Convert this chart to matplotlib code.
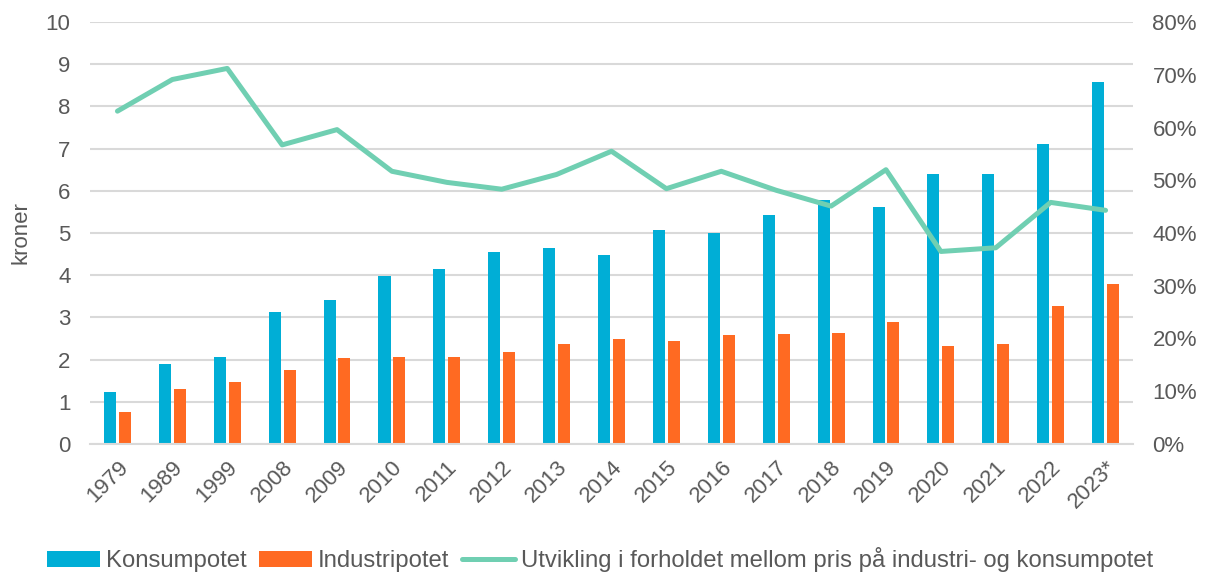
import numpy as np
import matplotlib
matplotlib.use("Agg")
import matplotlib.pyplot as plt
from matplotlib.ticker import FuncFormatter

years = ["1979", "1989", "1999", "2008", "2009", "2010", "2011", "2012", "2013", "2014",
         "2015", "2016", "2017", "2018", "2019", "2020", "2021", "2022", "2023*"]
konsum = [1.23, 1.90, 2.07, 3.12, 3.42, 3.98, 4.15, 4.54, 4.65, 4.49,
          5.07, 5.01, 5.43, 5.79, 5.61, 6.39, 6.39, 7.12, 8.59]
industri = [0.77, 1.30, 1.47, 1.76, 2.04, 2.05, 2.05, 2.19, 2.37, 2.49,
            2.45, 2.58, 2.61, 2.62, 2.90, 2.32, 2.38, 3.26, 3.80]
forhold = [63.1, 69.1, 71.2, 56.7, 59.6, 51.7, 49.6, 48.3, 51.1, 55.5,
           48.4, 51.7, 48.1, 45.1, 52.0, 36.5, 37.2, 45.8, 44.3]

BLUE = "#00AED6"
ORANGE = "#FF6A22"
GREEN = "#70CFB2"
TXT = "#595959"
GRID = "#D9D9D9"
FS = 16

plt.rcParams["font.family"] = ["Liberation Sans", "DejaVu Sans"]

fig = plt.figure(figsize=(12.05, 5.72), dpi=100)
ax = fig.add_axes([90 / 1205, 128 / 572, (1133 - 90) / 1205, (444 - 22) / 572])
ax2 = ax.twinx()

x = np.arange(len(years))
w = 0.22
ax.bar(x - 0.135, konsum, w, color=BLUE, label="Konsumpotet", zorder=2)
ax.bar(x + 0.135, industri, w, color=ORANGE, label="Industripotet", zorder=2)
ax2.plot(x, forhold, color=GREEN, lw=3.6, solid_capstyle="round",
         label="Utvikling i forholdet mellom pris på industri- og konsumpotet", zorder=3)

ax.set_xlim(-0.5, len(years) - 0.5)
ax.set_ylim(0, 10)
ax.set_yticks(range(0, 11))
ax2.set_ylim(0, 80)
ax2.set_yticks(range(0, 81, 10))
ax2.yaxis.set_major_formatter(FuncFormatter(lambda v, p: f"{int(v)}%"))

ax.yaxis.grid(True, color=GRID, lw=1.5, zorder=0)
ax.set_axisbelow(True)
for a in (ax, ax2):
    for s in a.spines.values():
        s.set_visible(False)
    a.tick_params(length=0, labelsize=FS, colors=TXT)
ax.spines["bottom"].set_visible(True)
ax.spines["bottom"].set_color(GRID)
ax.spines["bottom"].set_linewidth(1.5)

ax.set_xticks(x)
ax.set_xticklabels(years, rotation=45, ha="right", rotation_mode="anchor")
ax.tick_params(axis="x", pad=9)
ax.tick_params(axis="y", pad=14)
ax2.tick_params(axis="y", pad=14)
ax.set_ylabel("kroner", fontsize=FS, color=TXT, labelpad=10)

h1, l1 = ax.get_legend_handles_labels()
h2, l2 = ax2.get_legend_handles_labels()
fig.legend(h1 + h2, l1 + l2, loc="center", bbox_to_anchor=(0.498, 0.021), ncol=3,
           frameon=False, fontsize=17.2, labelcolor=TXT, handlelength=2.2,
           handleheight=0.6, handletextpad=0.25, columnspacing=0.55,
           borderpad=0, borderaxespad=0)

fig.savefig("out.png", dpi=100)
